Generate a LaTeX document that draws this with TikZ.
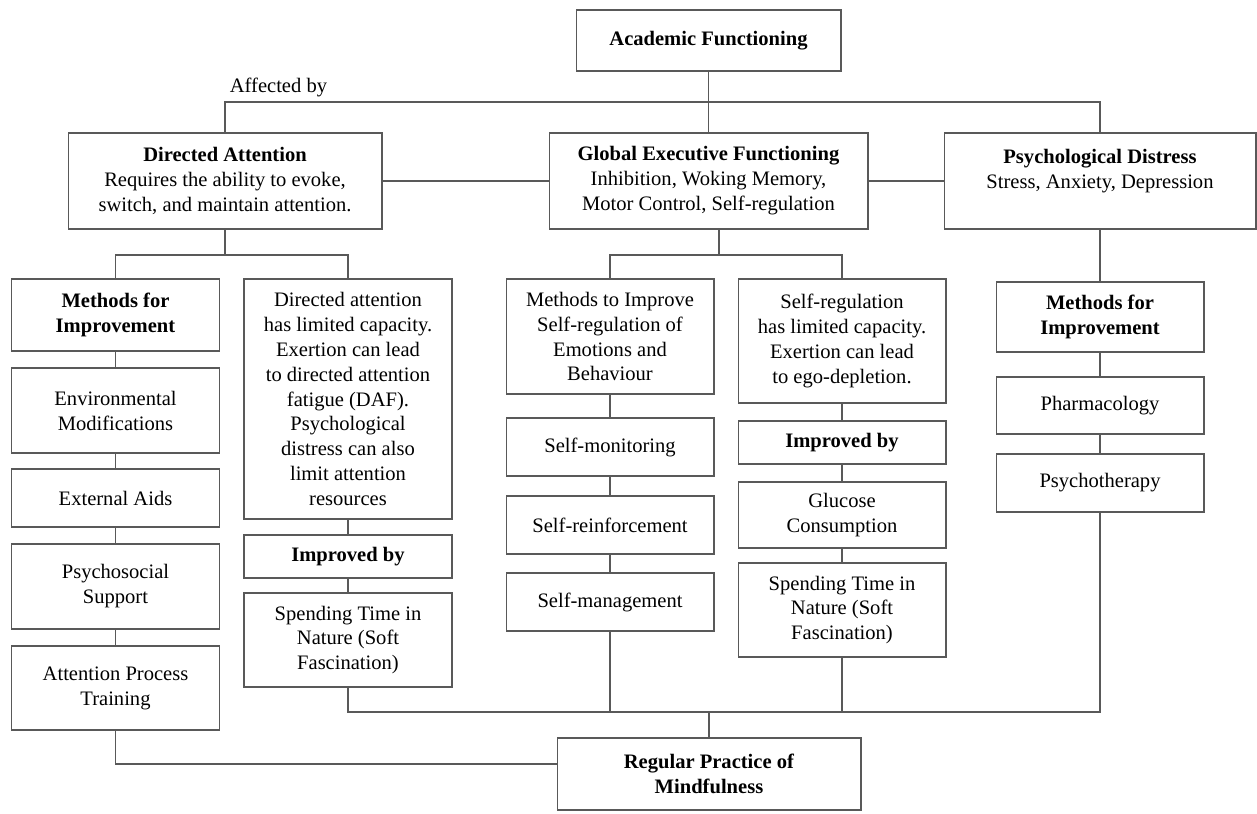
\documentclass[tikz,border=0pt]{standalone}
\usepackage{fontspec}
\setmainfont{Liberation Serif}
\usetikzlibrary{positioning}

\begin{document}
\begin{tikzpicture}[
    x=0.02cm, y=-0.02cm,
    box/.style={rectangle, draw=black!65, line width=0.6pt, inner sep=2pt, align=center, font=\fontsize{11.7}{14.2}\selectfont},
    colbox/.style={box, minimum width=4.16cm},
    link/.style={draw=black!65, line width=0.6pt}
  ]
  \useasboundingbox (0,0) rectangle (1257,814);

  % top row
  \node[box, minimum width=5.3cm, minimum height=1.22cm] (acad) at (708.5,40.5) {\textbf{Academic Functioning}};
  \node[anchor=west, inner sep=2pt, font=\fontsize{11.7}{14.2}\selectfont] (aff) at (226,87) {Affected by};
  \node[box, minimum width=6.28cm, minimum height=1.92cm] (da) at (225,181) {\textbf{Directed Attention}\\Requires the ability to evoke,\\switch, and maintain attention.};
  \node[box, minimum width=6.38cm, minimum height=1.92cm] (gef) at (708.5,181) {\textbf{Global Executive Functioning}\\Inhibition, Woking Memory,\\Motor Control, Self-regulation};
  \node[box, minimum width=6.24cm, minimum height=1.92cm] (pd) at (1100,181) {\textbf{Psychological Distress}\\Stress, Anxiety, Depression\\\mbox{}};

  % directed attention columns
  \node[colbox, minimum height=1.44cm] (mfi1) at (115.5,315) {\textbf{Methods for}\\\textbf{Improvement}};
  \node[colbox, minimum height=1.70cm] (env) at (115.5,410.5) {Environmental\\Modifications};
  \node[colbox, minimum height=1.16cm] (ext) at (115.5,498) {External Aids};
  \node[colbox, minimum height=1.70cm] (psy) at (115.5,586.5) {Psychosocial\\Support};
  \node[colbox, minimum height=1.68cm] (apt) at (115.5,688) {Attention Process\\Training};

  \node[colbox, minimum height=4.80cm] (lim1) at (348,399) {Directed attention\\has limited capacity.\\Exertion can lead\\to directed attention\\fatigue (DAF).\\Psychological\\distress can also\\limit attention\\resources};
  \node[colbox, minimum height=0.86cm] (imp1) at (348,556.5) {\textbf{Improved by}};
  \node[colbox, minimum height=1.88cm] (nat1) at (348,640) {Spending Time in\\Nature (Soft\\Fascination)};

  % executive functioning columns
  \node[colbox, minimum height=2.30cm] (mti) at (610,336.5) {Methods to Improve\\Self-regulation of\\Emotions and\\Behaviour};
  \node[colbox, minimum height=1.16cm] (smon) at (610,447) {Self-monitoring};
  \node[colbox, minimum height=1.16cm] (sref) at (610,525) {Self-reinforcement};
  \node[colbox, minimum height=1.16cm] (sman) at (610,602) {Self-management};

  \node[colbox, minimum height=2.48cm] (lim2) at (842,341) {Self-regulation\\has limited capacity.\\Exertion can lead\\to ego-depletion.};
  \node[colbox, minimum height=0.86cm] (imp2) at (842,442.5) {\textbf{Improved by}};
  \node[colbox, minimum height=1.32cm] (glu) at (842,515) {Glucose\\Consumption};
  \node[colbox, minimum height=1.88cm] (nat2) at (842,610) {Spending Time in\\Nature (Soft\\Fascination)};

  % distress column
  \node[colbox, minimum height=1.40cm] (mfi2) at (1100,317) {\textbf{Methods for}\\\textbf{Improvement}};
  \node[colbox, minimum height=1.14cm] (pha) at (1100,405.5) {Pharmacology};
  \node[colbox, minimum height=1.16cm] (psyt) at (1100,483) {Psychotherapy};

  % bottom
  \node[box, minimum width=6.08cm, minimum height=1.44cm] (mind) at (709,774) {\textbf{Regular Practice of}\\\textbf{Mindfulness}};

  % top connectors
  \coordinate (bus) at (708.5,102);
  \draw[link] (acad) -- (gef);
  \draw[link] (da.north) |- (bus) -| (pd.north);
  \draw[link] (da) -- (gef);
  \draw[link] (gef) -- (pd);

  % splits below the three headings
  \coordinate (dasplit) at (225,255);
  \coordinate (gefsplit) at (719,255);
  \draw[link] (da) -- (dasplit);
  \draw[link] (mfi1) |- (dasplit) -| (lim1);
  \draw[link] (gefsplit |- gef.south) -- (gefsplit);
  \draw[link] (mti) |- (gefsplit) -| (lim2);
  \draw[link] (pd) -- (mfi2);

  % chains down each column
  \foreach \a/\b in {mfi1/env, env/ext, ext/psy, psy/apt, lim1/imp1, imp1/nat1,
                     mti/smon, smon/sref, sref/sman, lim2/imp2, imp2/glu, glu/nat2,
                     mfi2/pha, pha/psyt}
    \draw[link] (\a) -- (\b);

  % into mindfulness
  \coordinate (mbus) at (709,712);
  \draw[link] (nat1) |- (mbus) -| (psyt);
  \draw[link] (sman) -- (sman |- mbus);
  \draw[link] (nat2) -- (nat2 |- mbus);
  \draw[link] (mbus) -- (mind);
  \draw[link] (apt) |- ([yshift=2mm]mind.west);
\end{tikzpicture}
\end{document}
